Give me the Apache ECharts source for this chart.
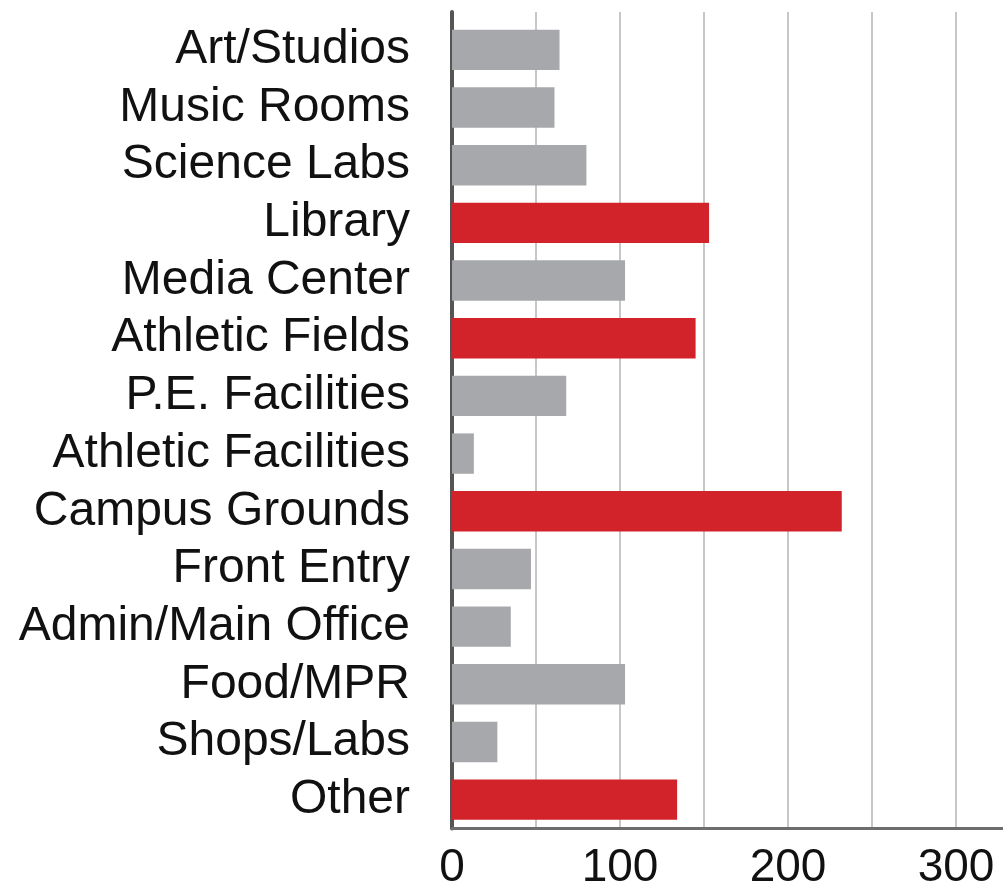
<!DOCTYPE html>
<html>
<head>
<meta charset="utf-8">
<script src="https://cdn.jsdelivr.net/npm/echarts@6/dist/echarts.min.js"></script>
<style>
  html, body { margin: 0; padding: 0; background: #fff; }
  #chart { width: 1003px; height: 884px; }
</style>
</head>
<body>
<div id="chart"></div>
<script>
const categories = [
  "Art/Studios", "Music Rooms", "Science Labs", "Library", "Media Center",
  "Athletic Fields", "P.E. Facilities", "Athletic Facilities", "Campus Grounds",
  "Front Entry", "Admin/Main Office", "Food/MPR", "Shops/Labs", "Other"
];
const values = [64, 61, 80, 153, 103, 145, 68, 13, 232, 47, 35, 103, 27, 134];
// red = highlighted bars
const highlighted = [false, false, false, true, false, true, false, false, true, false, false, false, false, true];
const xTicks = [0, 100, 200, 300];

const grey = "#a7a8ab";
const red = "#d2232a";
const font = "Liberation Sans";

const chart = echarts.init(document.getElementById("chart"));

const option = {
  animation: false,
  backgroundColor: "#fff",
  grid: [
    // axes + gridlines
    { left: 452, top: 12, width: 588, height: 816.5, outerBoundsMode: "none", containLabel: false },
    // bars + category labels
    { left: 452, top: 21, width: 588, height: 807.5, outerBoundsMode: "none", containLabel: false }
  ],
  xAxis: [
    {
      gridIndex: 0,
      type: "value",
      min: 0,
      max: 350,
      interval: 50,
      axisLine: { show: true, lineStyle: { color: "#6d6d6d", width: 3 } },
      axisTick: { show: false },
      splitLine: { show: true, lineStyle: { color: "#b4b4b4", width: 1.5 } },
      axisLabel: {
        margin: 17,
        color: "#111",
        fontSize: 46,
        fontFamily: font,
        formatter: function (v) {
          return xTicks.indexOf(v) >= 0 ? String(v) : "";
        }
      }
    },
    {
      gridIndex: 1,
      type: "value",
      min: 0,
      max: 350,
      show: false
    }
  ],
  yAxis: [
    {
      gridIndex: 0,
      type: "value",
      axisLine: { show: true, lineStyle: { color: "#555", width: 4 } },
      axisTick: { show: false },
      axisLabel: { show: false },
      splitLine: { show: false }
    },
    {
      gridIndex: 1,
      type: "category",
      inverse: true,
      data: categories,
      axisLine: { show: false },
      axisTick: { show: false },
      axisLabel: {
        margin: 42,
        color: "#111",
        fontSize: 48,
        fontFamily: font,
        interval: 0
      }
    }
  ],
  series: [
    {
      type: "bar",
      xAxisIndex: 1,
      yAxisIndex: 1,
      barCategoryGap: "30%",
      data: values.map((v, i) => ({
        value: v,
        itemStyle: { color: highlighted[i] ? red : grey }
      }))
    }
  ]
};

chart.setOption(option);
</script>
</body>
</html>
